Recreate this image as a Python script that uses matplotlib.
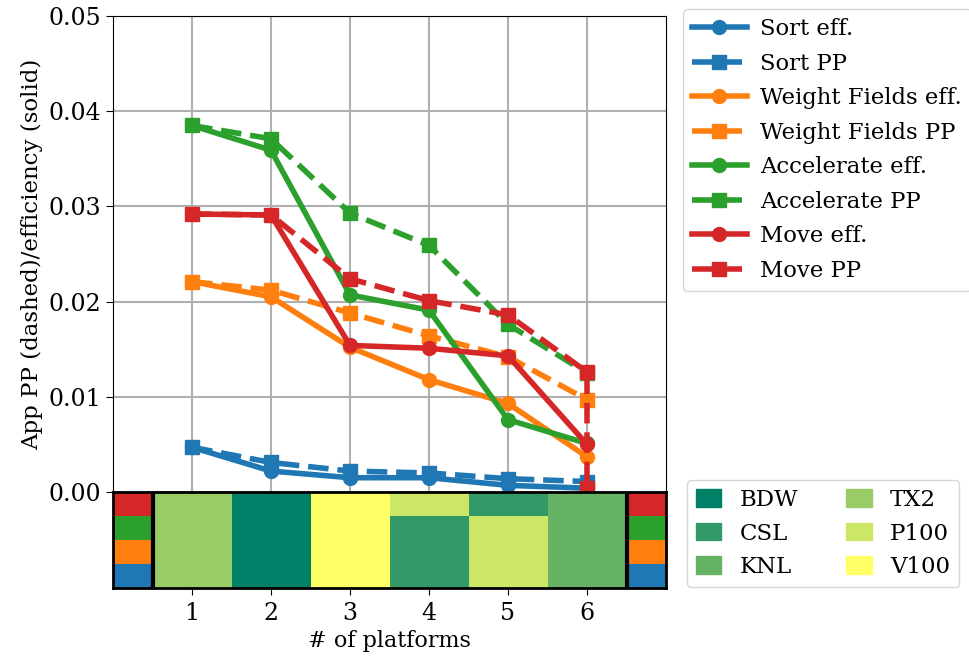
import matplotlib
matplotlib.use("Agg")
import matplotlib.pyplot as plt
from matplotlib.patches import Patch
import numpy as np

plt.rcParams['font.family'] = 'DejaVu Serif'
plt.rcParams['font.size'] = 16.5

x = [1, 2, 3, 4, 5, 6]
kernels = ["Sort", "Weight Fields", "Accelerate", "Move"]
colors = ["tab:blue", "tab:orange", "tab:green", "tab:red"]

eff = {
    "Sort": [0.0047, 0.0022, 0.0015, 0.0015, 0.0007, 0.0004],
    "Weight Fields": [0.0221, 0.0205, 0.0152, 0.0118, 0.0093, 0.0037],
    "Accelerate": [0.0385, 0.0359, 0.0207, 0.0191, 0.0076, 0.0051],
    "Move": [0.0292, 0.0291, 0.0154, 0.0151, 0.0143, 0.0050],
}
pp_x = {
    "Sort": [1, 2, 3, 4, 5, 6],
    "Weight Fields": [1, 2, 3, 4, 5, 6],
    "Accelerate": [1, 2, 3, 4, 5, 6],
    "Move": [1, 2, 3, 4, 5, 6, 6],
}
pp = {
    "Sort": [0.0047, 0.0031, 0.0022, 0.0020, 0.0014, 0.0011],
    "Weight Fields": [0.0221, 0.0212, 0.0188, 0.0164, 0.0142, 0.0097],
    "Accelerate": [0.0385, 0.0371, 0.0293, 0.0259, 0.0176, 0.0125],
    "Move": [0.0292, 0.0291, 0.0224, 0.0201, 0.0186, 0.0126, 0.0004],
}

platforms = ["BDW", "CSL", "KNL", "TX2", "P100", "V100"]
# platform index per kernel row (bottom->top: Sort, WF, Accelerate, Move) and x
choice = [
    [3, 0, 5, 1, 4, 2],
    [3, 0, 5, 1, 4, 2],
    [3, 0, 5, 1, 4, 2],
    [3, 0, 5, 4, 1, 2],
]

fig = plt.figure(figsize=(9.69, 6.63), dpi=100)
ax = fig.add_axes([113/969, 1-492/663, 553/969, 476/663])
ax2 = fig.add_axes([113/969, 1-588/663, 553/969, 96/663], sharex=ax)

for k, c in zip(kernels, colors):
    ax.plot(x, eff[k], '-o', color=c, lw=4, ms=10, label=k + " eff.")
    ax.plot(pp_x[k], pp[k], '--s', color=c, lw=4, ms=10, label=k + " PP")

ax.set_xlim(0, 7)
ax.set_ylim(0, 0.05)
ax.set_yticks([0, 0.01, 0.02, 0.03, 0.04, 0.05])
ax.grid(color='#b0b0b0', lw=1.5)
ax.tick_params(labelbottom=False, bottom=False, length=5, labelsize=17)
ax.set_ylabel("App PP (dashed)/efficiency (solid)", fontsize=16.5)

cmap = plt.get_cmap('summer')
xe = np.arange(0.5, 7.0, 1.0)
ye = np.arange(0, 5)
ax2.pcolormesh(xe, ye, np.array(choice), cmap=cmap, vmin=0, vmax=5)
for i, c in enumerate(colors):
    ax2.fill_between([0, 0.5], i, i+1, color=c, lw=0)
    ax2.fill_between([6.5, 7], i, i+1, color=c, lw=0)
ax2.axvline(0.5, color='black', lw=3)
ax2.axvline(6.5, color='black', lw=3)
ax2.set_ylim(0, 4)
ax2.set_yticks([])
ax2.set_xticks(x)
ax2.tick_params(length=5, labelsize=17, pad=5)
ax2.set_xlabel("# of platforms", fontsize=16)
for s in ax2.spines.values():
    s.set_linewidth(2)

fig.legend(*ax.get_legend_handles_labels(), loc='upper left',
           bbox_to_anchor=(683/969, 1-9/663), handlelength=2.4,
           handletextpad=0.6, borderaxespad=0, fontsize=16.4,
           labelspacing=0.55)

handles = [Patch(color=cmap(i/5)) for i in range(6)]
fig.legend(handles, platforms, loc='upper left', ncol=2,
           bbox_to_anchor=(687/969, 1-480/663), borderaxespad=0,
           fontsize=16.5, handlelength=1.1, handleheight=0.8,
           columnspacing=2.1)

fig.savefig("out.png", dpi=100)
